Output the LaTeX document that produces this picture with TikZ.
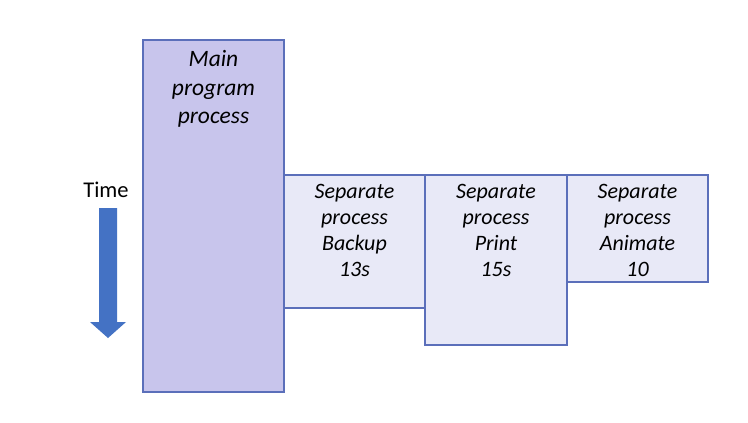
\documentclass[tikz,border=0pt]{standalone}
\usepackage{fontspec}
\setmainfont{Carlito}
\definecolor{mainfill}{HTML}{C8C5EC}
\definecolor{subfill}{HTML}{E8E9F7}
\definecolor{boxline}{HTML}{5B6FBA}
\definecolor{timearrow}{HTML}{4472C4}
\tikzset{
  procbox/.style = {draw = boxline, line width = 1.2pt, inner sep = 0pt},
  proctext/.style = {anchor = north, align = center, inner sep = 0pt,
    font = \fontsize{22}{26}\selectfont\itshape}
}
\begin{document}
\begin{tikzpicture}[x = 1pt, y = -1pt]
    \useasboundingbox[fill = white] (0,0) rectangle (748,423);
    % process boxes
    \node[procbox, fill = mainfill, minimum width = 141pt, minimum height = 352pt] (main) at (213.5,216) {};
    \node[procbox, fill = subfill, minimum width = 141pt, minimum height = 133pt] (backup) at (354.5,241.5) {};
    \node[procbox, fill = subfill, minimum width = 142pt, minimum height = 170pt] (print) at (496,260) {};
    \node[procbox, fill = subfill, minimum width = 141pt, minimum height = 107pt] (animate) at (637.5,228.5) {};
    \begin{scope}[every node/.append style = {proctext}]
        \node[font = \fontsize{23.5}{28.5}\selectfont\itshape] (maintext) at ([yshift = -11pt]main.north) {Main\\program\\process};
        \node (backuptext) at ([yshift = -10pt]backup.north) {Separate\\process\\Backup\\13s};
        \node (printtext) at ([yshift = -10pt]print.north) {Separate\\process\\Print\\15s};
        \node (animatetext) at ([yshift = -10pt]animate.north) {Separate\\process\\Animate\\10};
    \end{scope}
    % time axis
    \node[font = \fontsize{22.5}{27}\selectfont] (time) at (106,190) {Time};
    \fill[timearrow] (99,208) -- (117,208) -- (117,322) -- (126,322) -- (108,338)
        -- (90,322) -- (99,322) -- cycle;
\end{tikzpicture}
\end{document}
